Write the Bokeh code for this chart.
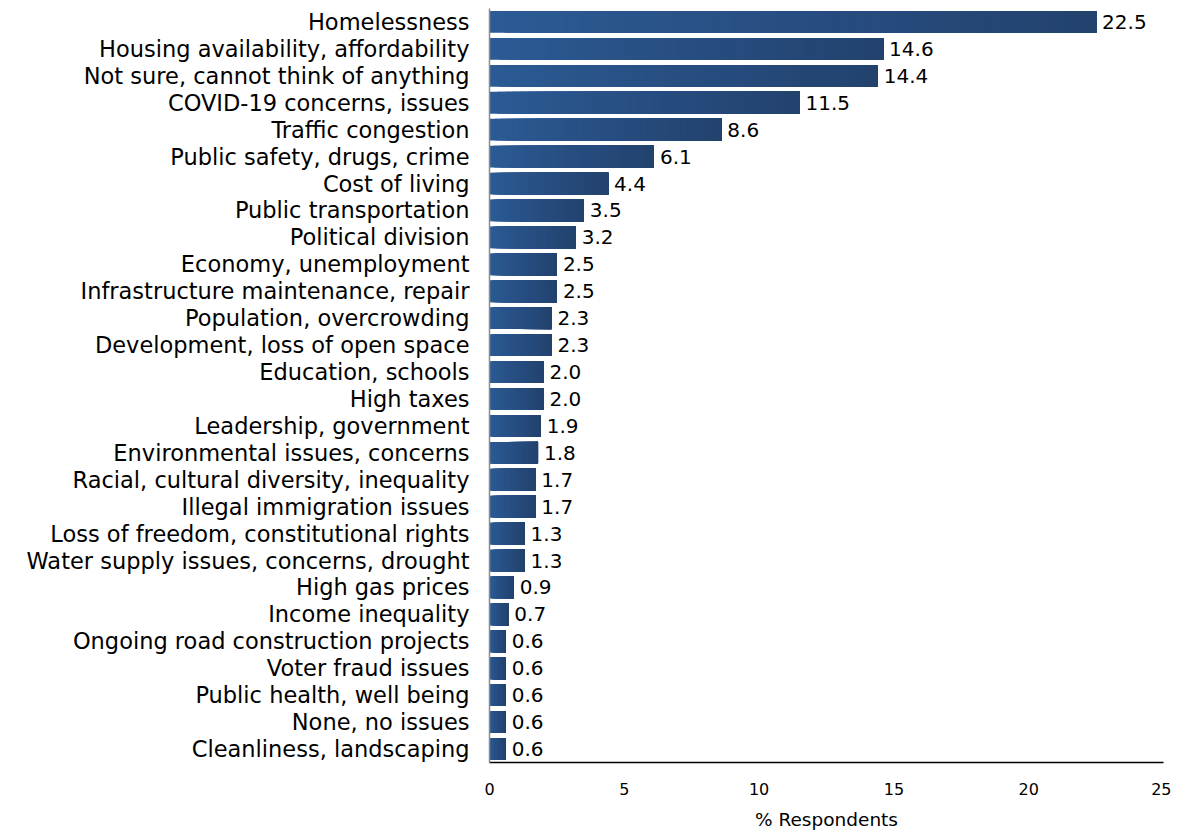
from bokeh.plotting import figure
from bokeh.models import FactorRange, Range1d, FixedTicker, ColumnDataSource
from bokeh.core.properties import value
from bokeh.embed import file_html
from bokeh.resources import INLINE

categories = [
    "Homelessness",
    "Housing availability, affordability",
    "Not sure, cannot think of anything",
    "COVID-19 concerns, issues",
    "Traffic congestion",
    "Public safety, drugs, crime",
    "Cost of living",
    "Public transportation",
    "Political division",
    "Economy, unemployment",
    "Infrastructure maintenance, repair",
    "Population, overcrowding",
    "Development, loss of open space",
    "Education, schools",
    "High taxes",
    "Leadership, government",
    "Environmental issues, concerns",
    "Racial, cultural diversity, inequality",
    "Illegal immigration issues",
    "Loss of freedom, constitutional rights",
    "Water supply issues, concerns, drought",
    "High gas prices",
    "Income inequality",
    "Ongoing road construction projects",
    "Voter fraud issues",
    "Public health, well being",
    "None, no issues",
    "Cleanliness, landscaping",
]
values = [22.5, 14.6, 14.4, 11.5, 8.6, 6.1, 4.4, 3.5, 3.2, 2.5, 2.5, 2.3, 2.3, 2.0,
          2.0, 1.9, 1.8, 1.7, 1.7, 1.3, 1.3, 0.9, 0.7, 0.6, 0.6, 0.6, 0.6, 0.6]
x_ticks = [0, 5, 10, 15, 20, 25]

LEFT_RGB = (43, 90, 148)
RIGHT_RGB = (35, 66, 110)
N = 40

p = figure(
    y_range=FactorRange(factors=categories[::-1], range_padding=0),
    x_range=Range1d(0, 25),
    width=1171, height=822,
    frame_width=674, frame_height=754,
    min_border_left=489, min_border_right=8, min_border_top=8, min_border_bottom=60,
    output_backend="svg", toolbar_location=None,
)

# gradient bars: overlapping layers, each running from a step along the bar to its end
ys, lefts, rights, colors = [], [], [], []
for c, v in zip(categories, values):
    for k in range(N):
        t = k / (N - 1)
        r = round(LEFT_RGB[0] + (RIGHT_RGB[0] - LEFT_RGB[0]) * t)
        g = round(LEFT_RGB[1] + (RIGHT_RGB[1] - LEFT_RGB[1]) * t)
        b = round(LEFT_RGB[2] + (RIGHT_RGB[2] - LEFT_RGB[2]) * t)
        ys.append(c)
        lefts.append(v * k / N)
        rights.append(v)
        colors.append("#%02x%02x%02x" % (r, g, b))
src = ColumnDataSource(dict(y=ys, left=lefts, right=rights, color=colors))
p.hbar(y="y", left="left", right="right", height=0.81, fill_color="color",
       line_color=None, source=src)

lab = ColumnDataSource(dict(y=categories, x=values, t=["%.1f" % v for v in values]))
p.text(x="x", y="y", text="t", source=lab, x_offset=6, text_align="left",
       text_baseline="middle", text_font=value("DejaVu Sans"),
       text_font_size="20px", text_color="#000000")

p.xgrid.visible = False
p.ygrid.visible = False
p.outline_line_color = None

ya = p.yaxis[0]
ya.axis_line_color = "#8c8c8c"
ya.axis_line_width = 1.5
ya.major_tick_line_color = None
ya.minor_tick_line_color = None
ya.major_label_text_font = "DejaVu Sans"
ya.major_label_text_font_size = "22.5px"
ya.major_label_text_color = "#000000"
ya.major_label_standoff = 14

xa = p.xaxis[0]
xa.ticker = FixedTicker(ticks=x_ticks)
xa.axis_line_color = "#000000"
xa.axis_line_width = 1.5
xa.major_tick_line_color = None
xa.minor_tick_line_color = None
xa.major_label_text_font = "DejaVu Sans"
xa.major_label_text_font_size = "16px"
xa.major_label_text_color = "#000000"
xa.major_label_standoff = 14
xa.axis_label = "% Respondents"
xa.axis_label_text_font = "DejaVu Sans"
xa.axis_label_text_font_size = "18.5px"
xa.axis_label_text_font_style = "normal"
xa.axis_label_text_color = "#000000"
xa.axis_label_standoff = 11

open("out.html", "w").write(file_html(p, INLINE))
